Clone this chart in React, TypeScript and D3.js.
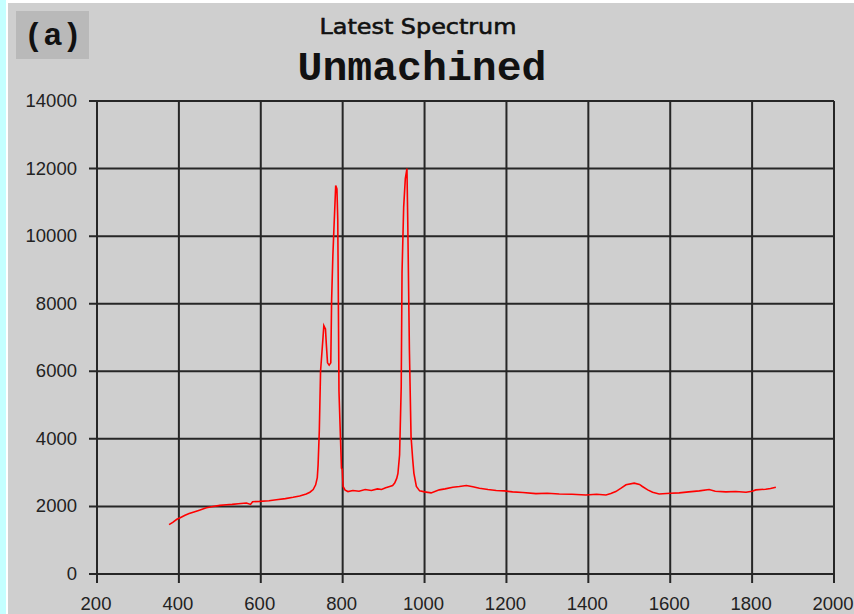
import * as d3 from "d3";
import React from "react";

// spectrum (wavenumber, counts)
const wavenumbers = [
  376, 385, 395, 402, 415, 425, 435, 450, 467, 480, 500, 516, 530, 545, 565, 575, 580, 597,
  620, 638, 660, 679, 695, 711, 720, 728, 734, 738, 740, 743, 746, 752, 754, 756, 758, 760,
  763, 767, 771, 773, 776, 779, 783, 786, 788, 789, 791, 795, 797, 799, 801, 806, 813, 825,
  840, 855, 870, 885, 895, 905, 915, 922, 927, 932, 935, 939, 943, 945, 949, 953, 957, 959,
  963, 967, 971, 974, 980, 988, 1000, 1016, 1036, 1050, 1069, 1085, 1102, 1118, 1134, 1155,
  1175, 1195, 1215, 1240, 1272, 1300, 1329, 1360, 1394, 1420, 1443, 1455, 1467, 1480, 1492,
  1512, 1525, 1532, 1545, 1557, 1573, 1600, 1622, 1645, 1671, 1695, 1710, 1736, 1760, 1785,
  1800, 1809, 1833, 1845, 1858,
];
const intensities = [
  1460, 1530, 1620, 1660, 1740, 1790, 1830, 1890, 1960, 1990, 2030, 2050, 2060, 2080, 2100, 2060, 2140, 2150,
  2170, 2200, 2230, 2270, 2310, 2370, 2420, 2500, 2640, 2850, 3230, 4260, 6000, 7000, 7350, 7300, 7250, 6820,
  6250, 6180, 6250, 8100, 9400, 10320, 11500, 11400, 10500, 8900, 5400, 3900, 3130, 3100, 2590, 2480, 2440, 2470,
  2450, 2500, 2470, 2520, 2500, 2550, 2590, 2620, 2690, 2830, 2980, 3520, 5540, 8940, 10860, 11700, 12000, 10420,
  6630, 4070, 3400, 2980, 2590, 2460, 2430, 2400, 2490, 2520, 2570, 2590, 2620, 2580, 2540, 2500,
  2470, 2460, 2430, 2410, 2380, 2390, 2370, 2360, 2340, 2360, 2340, 2380, 2440, 2540, 2640,
  2690, 2650, 2590, 2490, 2420, 2370, 2390, 2400, 2430, 2460, 2500, 2450, 2430, 2440, 2420,
  2450, 2490, 2510, 2530, 2570,
];
const xTicks = [200, 400, 600, 800, 1000, 1200, 1400, 1600, 1800, 2000];
const yTicks = [0, 2000, 4000, 6000, 8000, 10000, 12000, 14000];

const W = 854;
const H = 614;

export default function App() {
  const x = d3.scaleLinear().domain([200, 2000]).range([97, 834]);
  const y = d3.scaleLinear().domain([0, 14000]).range([574, 101]);

  const pts: [number, number][] = wavenumbers.map((w, i) => [w, intensities[i]]);
  const path = d3
    .line<[number, number]>()
    .x((d) => x(d[0]))
    .y((d) => y(d[1]))(pts);

  const grid = "#262626";
  const tickFont = "'Liberation Sans', Arial, sans-serif";

  return (
    <div style={{ position: "absolute", left: 0, top: 0 }}>
      <svg width={W} height={H} style={{ display: "block" }}>
        <rect x={0} y={0} width={W} height={H} fill="#ffffff" />
        <rect x={0} y={0} width={6} height={H} fill="#c4ffff" />
        <rect x={8} y={3} width={W - 8} height={H - 3} fill="#cfcfcf" />

        {/* panel label */}
        <rect x={16} y={11} width={73} height={48} fill="#b9b9b9" />
        <text
          x={24}
          y={45}
          fontFamily="'Liberation Mono', 'Courier New', monospace"
          fontWeight="bold"
          fontSize={32}
          fill="#111"
        >
          (a)
        </text>

        <text
          x={418}
          y={34}
          textAnchor="middle"
          fontFamily="'DejaVu Sans', sans-serif"
          fontSize={22}
          textLength={197}
          lengthAdjust="spacingAndGlyphs"
          fill="#111"
          stroke="#111"
          strokeWidth={0.6}
        >
          Latest Spectrum
        </text>
        <text
          x={422}
          y={80}
          textAnchor="middle"
          fontFamily="'Liberation Mono', 'Courier New', monospace"
          fontWeight="bold"
          fontSize={40}
          textLength={249}
          lengthAdjust="spacingAndGlyphs"
          fill="#111"
        >
          Unmachined
        </text>

        {/* grid + ticks */}
        {yTicks.map((t) => (
          <g key={"y" + t}>
            <line x1={89} x2={834} y1={y(t)} y2={y(t)} stroke={grid} strokeWidth={2} />
            <text
              x={77}
              y={y(t) + 6}
              textAnchor="end"
              fontFamily={tickFont}
              fontSize={18.5}
              fill="#222"
            >
              {t}
            </text>
          </g>
        ))}
        {xTicks.map((t) => (
          <g key={"x" + t}>
            <line x1={x(t)} x2={x(t)} y1={101} y2={583} stroke={grid} strokeWidth={2} />
            <text
              x={x(t) - 1}
              y={610}
              textAnchor="middle"
              fontFamily={tickFont}
              fontSize={18.5}
              fill="#222"
            >
              {t}
            </text>
          </g>
        ))}

        <path d={path ?? ""} fill="none" stroke="#ff0000" strokeWidth={1.6} />
      </svg>
    </div>
  );
}
